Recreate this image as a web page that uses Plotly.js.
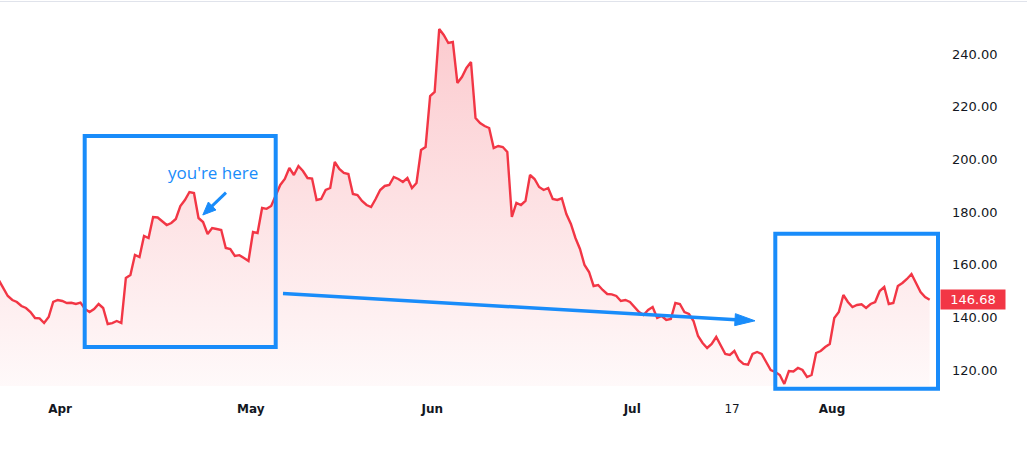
<!DOCTYPE html>
<html>
<head>
<meta charset="utf-8">
<script src="https://cdn.plot.ly/plotly-3.0.1.min.js"></script>
<style>
html,body{margin:0;padding:0;background:#ffffff;}
#chart{width:1027px;height:455px;}
</style>
</head>
<body>
<div id="chart"></div>
<script>
// ---- data ----
const tradingDays = [
  '2020-03-23','2020-03-24','2020-03-25','2020-03-26','2020-03-27','2020-03-30','2020-03-31',
  '2020-04-01','2020-04-02','2020-04-03','2020-04-06','2020-04-07','2020-04-08','2020-04-09',
  '2020-04-13','2020-04-14','2020-04-15','2020-04-16','2020-04-17','2020-04-20','2020-04-21',
  '2020-04-22','2020-04-23','2020-04-24','2020-04-27','2020-04-28','2020-04-29','2020-04-30',
  '2020-05-01','2020-05-04','2020-05-05','2020-05-06','2020-05-07','2020-05-08','2020-05-11',
  '2020-05-12','2020-05-13','2020-05-14','2020-05-15','2020-05-18','2020-05-19','2020-05-20',
  '2020-05-21','2020-05-22','2020-05-26','2020-05-27','2020-05-28','2020-05-29',
  '2020-06-01','2020-06-02','2020-06-03','2020-06-04','2020-06-05','2020-06-08','2020-06-09',
  '2020-06-10','2020-06-11','2020-06-12','2020-06-15','2020-06-16','2020-06-17','2020-06-18',
  '2020-06-19','2020-06-22','2020-06-23','2020-06-24','2020-06-25','2020-06-26','2020-06-29',
  '2020-06-30',
  '2020-07-01','2020-07-02','2020-07-06','2020-07-07','2020-07-08','2020-07-09','2020-07-10',
  '2020-07-13','2020-07-14','2020-07-15','2020-07-16','2020-07-17','2020-07-20','2020-07-21',
  '2020-07-22','2020-07-23','2020-07-24','2020-07-27','2020-07-28','2020-07-29','2020-07-30',
  '2020-07-31',
  '2020-08-03','2020-08-04','2020-08-05','2020-08-06','2020-08-07','2020-08-10','2020-08-11',
  '2020-08-12','2020-08-13','2020-08-14','2020-08-17'
];
const sessionTimes = ['06:00','18:00'];   // two readings per trading day
const prices = [
  154.17,151.13, 148.09,146.57, 145.81,144.29, 143.53,142.01, 139.73,139.60, 137.83,140.11, 145.81,146.57,
  146.20,145.43, 145.50,145.05, 145.60,143.15, 142.01,143.15, 145.05,143.53, 137.45,137.80, 138.59,137.83,
  154.92,156.06, 163.66,162.90, 170.88,170.12, 178.09,177.90, 176.57,175.05, 175.81,177.33, 182.27,184.55,
  187.59,187.21, 177.71,176.19, 171.64,173.91, 173.53,173.16, 166.32,165.94, 163.28,163.60, 162.52,161.38,
  172.40,172.00, 181.51,181.20, 182.27,186.07, 190.25,192.52, 196.70,194.04, 197.46,195.56, 192.90,192.70,
  184.55,184.93, 188.35,189.11, 198.98,196.32, 194.80,194.42, 186.83,186.40, 184.17,182.65, 181.89,184.93,
  188.35,189.87, 190.25,193.28, 192.52,191.39, 192.90,189.11, 191.01,203.54, 204.68,224.05,
  225.57,249.50, 247.22,244.18, 244.56,228.99, 231.26,234.68, 236.96,215.69, 213.79,212.65, 211.89,204.30,
  205.06,204.68, 202.78,178.09, 183.41,182.65, 184.17,194.04, 192.52,189.49, 188.35,189.11, 184.93,184.55,
  185.20,179.23, 175.43,170.12, 165.94,159.86, 157.20,151.89, 152.27,150.37, 148.85,148.70, 148.09,146.19,
  146.57,145.81,
  143.91,142.01, 140.87,142.77, 143.91,139.73, 140.49,138.97, 139.35,145.43, 145.05,142.01, 141.25,138.59,
  132.90,130.24, 128.34,129.86, 132.52,129.48, 126.06,125.68, 127.20,123.78, 122.26,122.00, 126.06,126.82,
  126.06,123.02, 119.98,119.22, 118.08,114.67, 119.60,119.40, 120.74,119.98, 117.32,118.08, 126.44,127.20,
  128.72,129.86,
  139.73,142.01, 148.47,145.81, 143.91,144.67, 144.90,143.53, 145.05,145.81, 149.99,151.51, 145.05,145.43,
  151.89,153.03, 154.54,156.44, 153.03,149.61, 147.71,146.68
];
const lastPrice = 146.68;
const marketHolidays = ['2020-04-10','2020-05-25','2020-07-03'];
const tickDates  = ['2020-04-01','2020-05-01','2020-06-01','2020-07-01','2020-07-17','2020-08-03'];
const tickLabels = ['Apr','May','Jun','Jul','17','Aug'];
const tickIsMonth = [true,true,true,true,false,true];
const yTicks = [120,140,160,180,200,220,240];
const calloutText = "you're here";

// ---- build ----
const times = prices.map((p, i) => tradingDays[Math.floor(i / 2)] + ' ' + sessionTimes[i % 2]);

const RED = '#f23645';
const BLUE = '#198cfa';
const PW = 940, PT = 2, PH = 384;   // plot area in pixels
function px(x) { return x / PW; }
function py(y) { return (PT + PH - y) / PH; }
function rectShape(x0, y0, x1, y1) {
  return {type: 'rect', xref: 'paper', yref: 'paper', x0: px(x0), x1: px(x1), y0: py(y1), y1: py(y0),
          line: {color: BLUE, width: 4}, layer: 'above'};
}
function arrowShapes(ax, ay, bx, by, width, headLen, headHalf) {
  const dx = bx - ax, dy = by - ay, L = Math.hypot(dx, dy);
  const ux = dx / L, uy = dy / L, nx = -uy, ny = ux;
  const cx = bx - ux * headLen, cy = by - uy * headLen;
  const p1 = [cx + nx * headHalf, cy + ny * headHalf], p2 = [cx - nx * headHalf, cy - ny * headHalf];
  const path = 'M' + px(bx) + ',' + py(by) + ' L' + px(p1[0]) + ',' + py(p1[1]) +
               ' L' + px(p2[0]) + ',' + py(p2[1]) + ' Z';
  return [
    {type: 'line', xref: 'paper', yref: 'paper', x0: px(ax), y0: py(ay), x1: px(cx + ux), y1: py(cy + uy),
     line: {color: BLUE, width: width}, layer: 'above'},
    {type: 'path', xref: 'paper', yref: 'paper', path: path, fillcolor: BLUE,
     line: {color: BLUE, width: 1}, layer: 'above'}
  ];
}

const trace = {
  type: 'scatter', mode: 'lines', x: times, y: prices,
  line: {color: RED, width: 2.4, shape: 'linear'},
  fill: 'tozeroy',
  fillgradient: {type: 'vertical', start: 113.9, stop: 250,
    colorscale: [[0, 'rgba(242,54,69,0.03)'], [1, 'rgba(242,54,69,0.26)']]},
  hoverinfo: 'skip', showlegend: false
};

const shapes = [
  {type: 'line', xref: 'paper', yref: 'paper', x0: 0, x1: 1027 / PW, y0: py(1.5), y1: py(1.5),
   line: {color: '#e0e3eb', width: 1}},
  rectShape(84.7, 136, 275.7, 347),
  rectShape(775.3, 233.7, 938, 388.7)
].concat(arrowShapes(283, 293.5, 755, 320.8, 3.5, 20, 6))
 .concat(arrowShapes(226, 192.7, 202.8, 215, 3, 13, 5.5));

const layout = {
  width: 1027, height: 455,
  margin: {l: 0, r: 87, t: PT, b: 455 - PT - PH, pad: 0},
  paper_bgcolor: '#ffffff', plot_bgcolor: '#ffffff',
  showlegend: false,
  xaxis: {
    type: 'date',
    range: ['2020-03-23 09:24', '2020-08-18 21:21'],
    rangebreaks: [{bounds: ['sat', 'mon']}, {values: marketHolidays}],
    tickmode: 'array', tickvals: tickDates,
    ticktext: tickLabels.map((t, i) => tickIsMonth[i] ? '<b>' + t + '</b>' : t),
    ticks: '', ticklabelstandoff: 14,
    showgrid: false, zeroline: false, showline: false,
    tickfont: {family: 'DejaVu Sans', size: 12, color: '#131722'},
    fixedrange: true
  },
  yaxis: {
    side: 'right',
    range: [113.9, 259.75],
    tickmode: 'array', tickvals: yTicks, tickformat: '.2f',
    ticks: '', ticklabelstandoff: 11,
    showgrid: false, zeroline: false, showline: false,
    tickfont: {family: 'DejaVu Sans', size: 13, color: '#131722'},
    fixedrange: true
  },
  shapes: shapes,
  annotations: [
    {xref: 'paper', yref: 'paper', x: px(213), y: py(172.5), text: calloutText, showarrow: false,
     xanchor: 'center', yanchor: 'middle',
     font: {family: 'Open Sans', size: 17, color: BLUE}},
    {xref: 'paper', yref: 'y', x: 1, y: lastPrice, text: lastPrice.toFixed(2), showarrow: false,
     xanchor: 'left', yanchor: 'middle', bgcolor: RED, width: 60, height: 15, borderpad: 2,
     font: {family: 'DejaVu Sans', size: 13, color: '#ffffff'}}
  ]
};

Plotly.newPlot('chart', [trace], layout, {displayModeBar: false, staticPlot: true});
</script>
</body>
</html>
